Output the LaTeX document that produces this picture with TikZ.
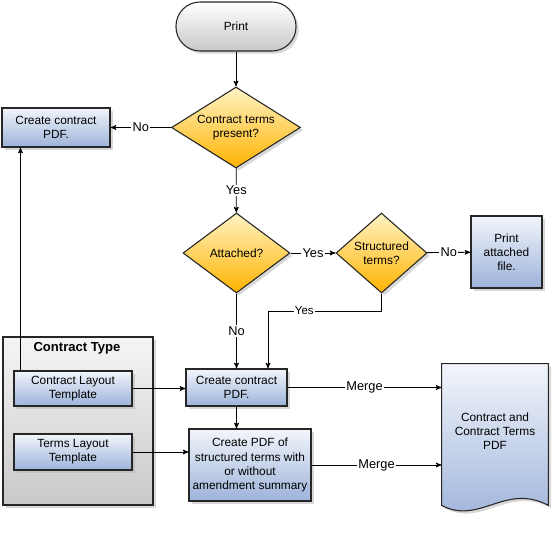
\documentclass[tikz,border=0pt]{standalone}
\usepackage{fontspec}
\setmainfont{Liberation Sans}
\usetikzlibrary{arrows,shapes.geometric,shadows,calc,backgrounds}

\definecolor{boxtop}{HTML}{F2F5FB}
\definecolor{boxbot}{HTML}{9DB3DA}
\definecolor{dectop}{HTML}{FFF3C4}
\definecolor{decbot}{HTML}{FFB300}
\definecolor{termbot}{HTML}{C8C8C8}
\definecolor{grpbot}{HTML}{C8C8C8}

\begin{document}
\begin{tikzpicture}[->,>=stealth',semithick,x=0.75pt,y=-0.75pt,
                    font=\fontsize{8.9}{10.6}\selectfont]
  \tikzstyle{shade box}=[draw=black!85,line width=0.8pt,
                         drop shadow={shadow xshift=2pt,shadow yshift=-2pt,fill=black!30}]
  \tikzstyle{process}=[shade box,rectangle,top color=boxtop,bottom color=boxbot,align=center,inner sep=2pt]
  \tikzstyle{decision}=[shade box,diamond,top color=dectop,bottom color=decbot,align=center,inner sep=0pt]
  \tikzstyle{terminal}=[shade box,rectangle,rounded corners=18pt,top color=white,bottom color=termbot]
  \tikzstyle{groupbox}=[shade box,rectangle,top color=black!4,bottom color=grpbot]
  \tikzstyle{lbl}=[fill=white,inner sep=1pt,font=\fontsize{9.6}{11}\selectfont]

  \useasboundingbox (0,0) rectangle (552,543);

  \node[terminal,minimum width=90pt,minimum height=36.75pt] (print) at (236,26.5) {Print};
  \node[decision,aspect=1.6,minimum width=96.75pt,minimum height=60.75pt] (present) at (236,127.5)
  {Contract terms\\present?};
  \node[process,minimum width=81pt,minimum height=29.25pt] (ownpdf) at (56,127.5)
  {Create contract\\PDF.};
  \node[decision,aspect=1.34,minimum width=80.25pt,minimum height=60pt] (attached) at (236.5,253)
  {Attached?};
  \node[decision,aspect=1.14,minimum width=68.25pt,minimum height=60pt] (structured) at (381.5,253)
  {Structured\\terms?};
  \node[process,minimum width=53.25pt,minimum height=54pt] (printfile) at (506.5,252)
  {Print\\attached\\file.};
  \node[groupbox,minimum width=112.5pt,minimum height=126pt] (ctype) at (78,421) {};
  \node[font=\bfseries\fontsize{9.8}{11}\selectfont] (ctitle) at (77,348) {Contract Type};
  \node[process,minimum width=88.5pt,minimum height=26.25pt] (layout) at (73,388.5)
  {Contract Layout\\Template};
  \node[process,minimum width=88.5pt,minimum height=27pt] (termslayout) at (73,452)
  {Terms Layout\\Template};
  \node[process,minimum width=75.75pt,minimum height=27.75pt] (contractpdf) at (236.5,387.5)
  {Create contract\\PDF.};
  \node[process,minimum width=91.5pt,minimum height=54pt] (termspdf) at (250,465)
  {Create PDF of\\structured terms with\\or without\\amendment summary};
  \node[align=center,minimum width=79.5pt,minimum height=100.5pt] (merged) at (495,431)
  {Contract and\\Contract Terms\\PDF};
  \coordinate (yesbend) at (268,311);

  \begin{scope}[on background layer]
    \shade[-,shade box,top color=boxtop,bottom color=boxbot]
      (merged.north west) -- (merged.north east) -- ($(merged.south east)+(0,7)$)
      .. controls +(-43,-23) and +(38,20) .. ($(merged.south west)+(0,7)$) -- cycle;
  \end{scope}

  \path (print) edge (present)
        (present) edge node[lbl] {No} (ownpdf)
                  edge node[lbl] {Yes} (attached)
        (attached) edge node[lbl] {Yes} (structured)
                   edge node[lbl] {No} (contractpdf)
        (structured) edge node[lbl] {No} (printfile)
        (layout.east) edge (layout.east -| contractpdf.west)
        (termslayout.east) edge (termslayout.east -| termspdf.west)
        (contractpdf) edge (contractpdf.south |- termspdf.north)
        (contractpdf.east) edge node[lbl] {Merge} (contractpdf.east -| merged.west)
        (termspdf.east) edge node[lbl] {Merge} (termspdf.east -| merged.west);

  \draw (structured.south) |- node[lbl,font=\fontsize{8.6}{10}\selectfont,pos=0.84] {Yes} (yesbend)
        -- (yesbend |- contractpdf.north);
  \draw ([xshift=5.25pt]layout.north west) coordinate (up) -- (up |- ownpdf.south);
\end{tikzpicture}
\end{document}
